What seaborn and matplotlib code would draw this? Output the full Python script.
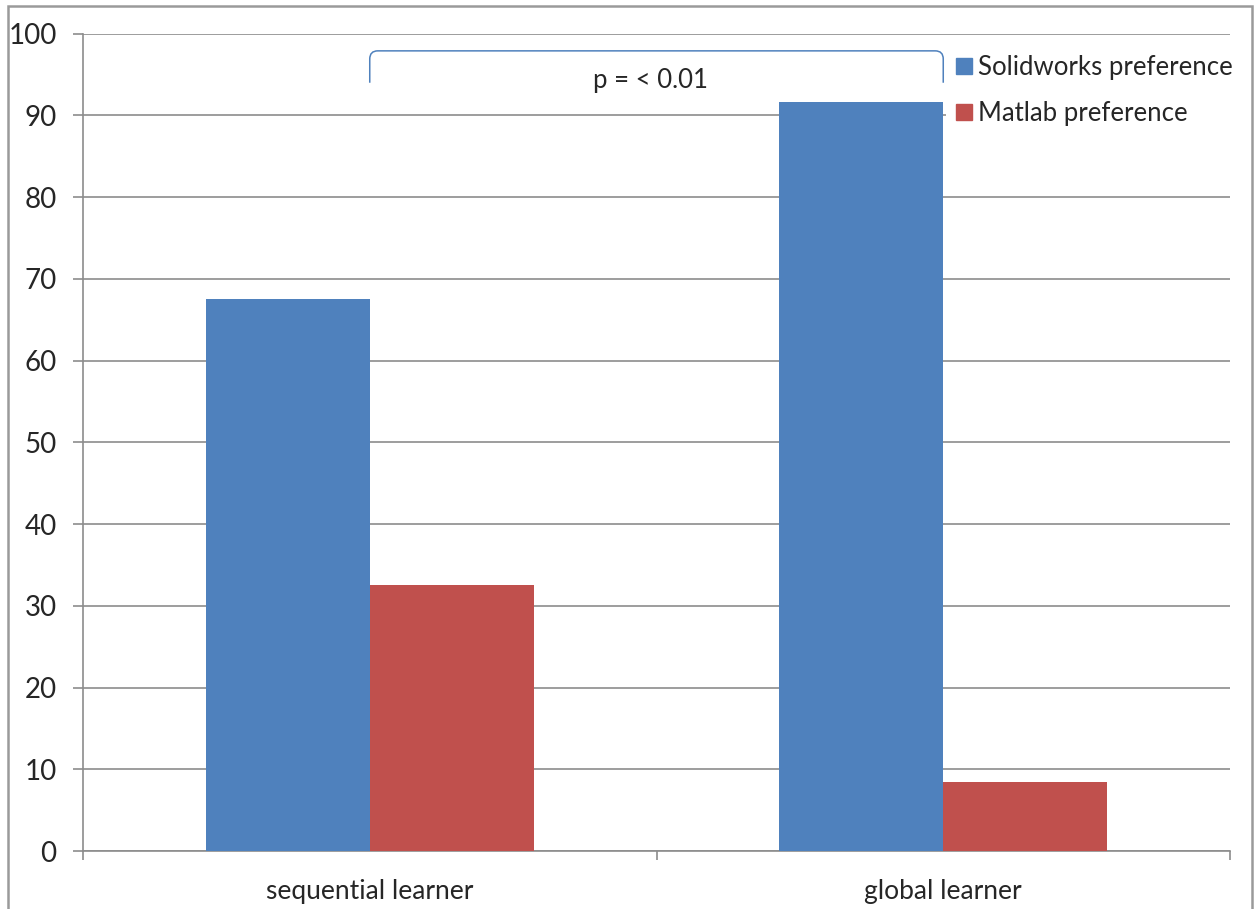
import matplotlib

matplotlib.use("Agg")
import matplotlib.pyplot as plt
import pandas as pd
import seaborn as sns
from matplotlib.lines import Line2D
from matplotlib.patches import PathPatch, Rectangle
from matplotlib.path import Path

# ── Data ──────────────────────────────────────────────────────
learners = ["sequential learner", "global learner"]
series = ["Solidworks preference", "Matlab preference"]
solidworks = [67.5, 91.6]
matlab = [32.5, 8.4]
yticks = [0, 10, 20, 30, 40, 50, 60, 70, 80, 90, 100]
p_label = "p = < 0.01"

colors = ["#4F81BD", "#C0504D"]
grid_col = "#8C8C8C"

df = pd.DataFrame(
    {
        "learner": learners * 2,
        "pref": [series[0]] * 2 + [series[1]] * 2,
        "pct": solidworks + matlab,
    }
)

sns.set_theme(style="white")
plt.rcParams["font.family"] = ["Lato", "DejaVu Sans"]

fig = plt.figure(figsize=(12.58, 9.09), dpi=100)
ax = fig.add_axes([83 / 1258, 58 / 909, (1230 - 83) / 1258, (851 - 33.7) / 909])

sns.barplot(
    data=df,
    x="learner",
    y="pct",
    hue="pref",
    palette=colors,
    width=328 / 573,
    saturation=1,
    linewidth=0,
    legend=False,
    ax=ax,
    zorder=3,
)

ax.set_xlim(-0.5, 1.5)
ax.set_ylim(0, 100)
ax.set_yticks(yticks)
ax.set_yticklabels([str(t) for t in yticks], fontsize=20)
ax.yaxis.grid(True, color=grid_col, linewidth=1.2, zorder=0)
ax.set_axisbelow(True)

# category ticks between groups, labels centred under groups
ax.set_xticks([-0.5, 0.5, 1.5])
ax.set_xticklabels([])
ax.set_xticks([0, 1], minor=True)
ax.set_xticklabels(learners, minor=True, fontsize=19)
ax.tick_params(axis="x", which="major", length=6.5, width=1.2, color=grid_col, direction="out", bottom=True)
ax.tick_params(axis="x", which="minor", length=0, pad=20)
ax.tick_params(axis="y", length=7, width=1.2, color=grid_col, direction="out", left=True, pad=12)
ax.set_xlabel("")
ax.set_ylabel("")

for side in ["top", "right"]:
    ax.spines[side].set_visible(False)
for side in ["left", "bottom"]:
    ax.spines[side].set_color(grid_col)
    ax.spines[side].set_linewidth(1.2)

# significance bracket
top, foot, rx, ry = 97.9, 94.0, 0.014, 1.0
verts = [
    (0, foot), (0, top - ry), (0, top), (rx, top),
    (1 - rx, top), (1, top), (1, top - ry), (1, foot),
]
codes = [
    Path.MOVETO, Path.LINETO, Path.CURVE3, Path.CURVE3,
    Path.LINETO, Path.CURVE3, Path.CURVE3, Path.LINETO,
]
ax.add_patch(PathPatch(Path(verts, codes), fill=False, edgecolor="#4F81BD", linewidth=1.1, zorder=4))
ax.text(0.49, 94.3, p_label, ha="center", va="center", fontsize=18.5, zorder=5)

# legend
handles = [
    Line2D([], [], marker="s", linestyle="", markersize=12, markerfacecolor=c, markeredgecolor=c)
    for c in colors
]
leg = fig.legend(
    handles,
    series,
    loc="upper left",
    bbox_to_anchor=(933 / 1258, 1 - 37 / 909),
    frameon=True,
    fontsize=18.5,
    handletextpad=0.05,
    labelspacing=0.8,
    borderpad=0.2,
    handlelength=1.0,
)
leg.get_frame().set_facecolor("white")
leg.get_frame().set_edgecolor("none")
leg.get_frame().set_alpha(1)

# outer chart border
fig.patches.append(
    Rectangle(
        (8 / 1258, -0.05), (1252 - 8) / 1258, 1.05 - 6 / 909,
        transform=fig.transFigure, fill=False, edgecolor="#9A9A9A", linewidth=1.8, zorder=10,
    )
)

fig.savefig("out.png", dpi=100)
